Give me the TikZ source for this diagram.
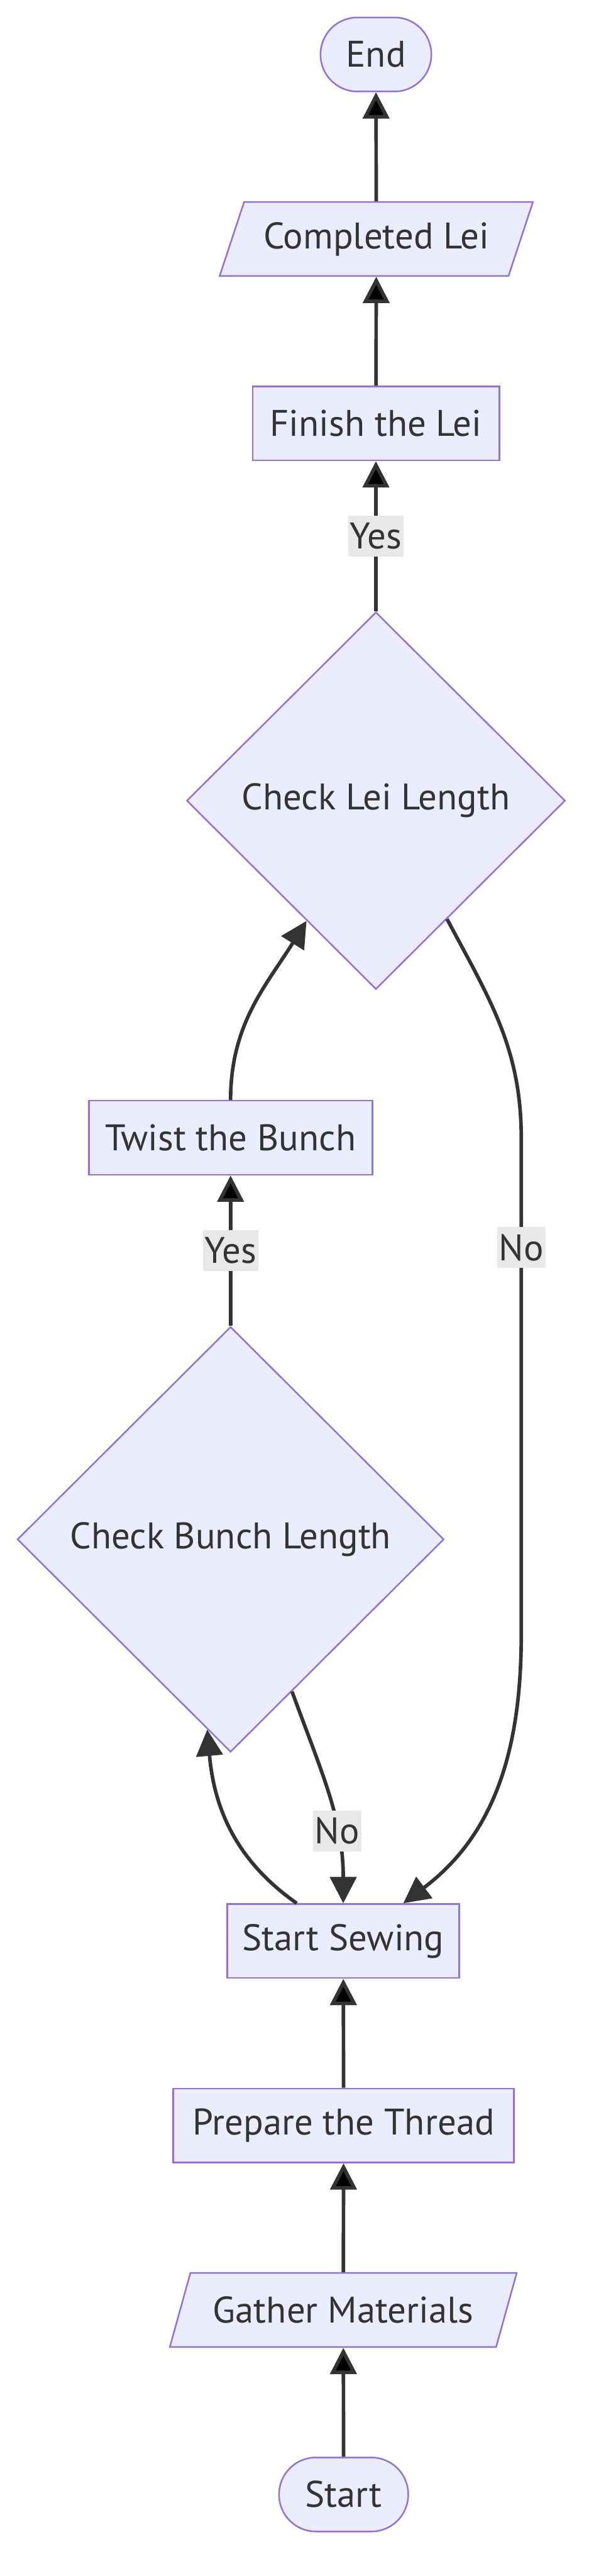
\documentclass[tikz,border=0pt]{standalone}
\usepackage{fontspec}
\setmainfont{PT Sans}
\usetikzlibrary{shapes.geometric,arrows.meta}

\definecolor{nodefill}{HTML}{ECECFF}
\definecolor{nodeline}{HTML}{9370DB}
\definecolor{ink}{HTML}{333333}
\definecolor{lblfill}{HTML}{E8E8E8}

\tikzset{
    box/.style={shape=rectangle,draw=nodeline,fill=nodefill,line width=1.2pt,text=ink,minimum height=1.97cm},
    term/.style={box,rounded corners=0.98cm},
    io/.style={box,shape=trapezium,trapezium left angle=63,trapezium right angle=117,trapezium stretches=true},
    check/.style={box,shape=diamond,aspect=1},
    flow/.style={draw=ink,line width=2.7pt,-{Triangle[width=0.7cm,length=0.7cm]}},
    lbl/.style={fill=lblfill,text=ink,inner sep=0.05cm,minimum height=1.09cm}
}

\begin{document}
\begin{tikzpicture}[font=\fontsize{28}{34}\selectfont]
    \useasboundingbox (0,0) rectangle (15.68,-68.56);

    \node[term,minimum width=2.95cm] (stop) at (10.01,-1.45) {End};
    \node[io,minimum width=8.36cm] (done) at (10.02,-6.36) {Completed Lei};
    \node[box,minimum width=6.57cm] (finish) at (10.01,-11.27) {Finish the Lei};
    \node[check,minimum width=10.08cm,minimum height=10.04cm] (leichk) at (10.01,-21.31) {Check Lei Length};
    \node[box,minimum width=7.55cm] (twist) at (6.14,-30.28) {Twist the Bunch};
    \node[check,minimum width=11.36cm,minimum height=11.32cm] (bunchchk) at (6.14,-40.97) {Check Bunch Length};
    \node[box,minimum width=6.17cm] (sew) at (9.14,-51.66) {Start Sewing};
    \node[box,minimum width=9.07cm] (thread) at (9.15,-56.57) {Prepare the Thread};
    \node[io,minimum width=9.24cm] (gather) at (9.14,-61.48) {Gather Materials};
    \node[term,minimum width=3.44cm] (start) at (9.15,-66.39) {Start};

    \coordinate (notop) at (13.88,-30.3);
    \coordinate (nobot) at (13.88,-43.5);

    \path [flow] (start) edge (gather);
    \path [flow] (gather) edge (thread);
    \path [flow] (thread) edge (sew);
    \draw [flow] ([xshift=-1.24cm]sew.north) to[out=145,in=-85] (bunchchk.263);
    \draw [flow] (bunchchk.-68) to[out=-70,in=90] node[lbl,pos=0.68] (nobunch) {No} (sew.north);
    \path [flow] (bunchchk) edge node[lbl] (yesbunch) {Yes} (twist);
    \draw [flow] (twist.north) to[out=90,in=238] (leichk.240);
    \draw [flow] (leichk.-59) to[out=-62,in=90] (notop) -- node[lbl,pos=0.22] (nolei) {No} (nobot) to[out=-90,in=37] ([xshift=1.6cm]sew.north);
    \path [flow] (leichk) edge node[lbl] (yeslei) {Yes} (finish);
    \path [flow] (finish) edge (done);
    \path [flow] (done) edge (stop);

\end{tikzpicture}
\end{document}
